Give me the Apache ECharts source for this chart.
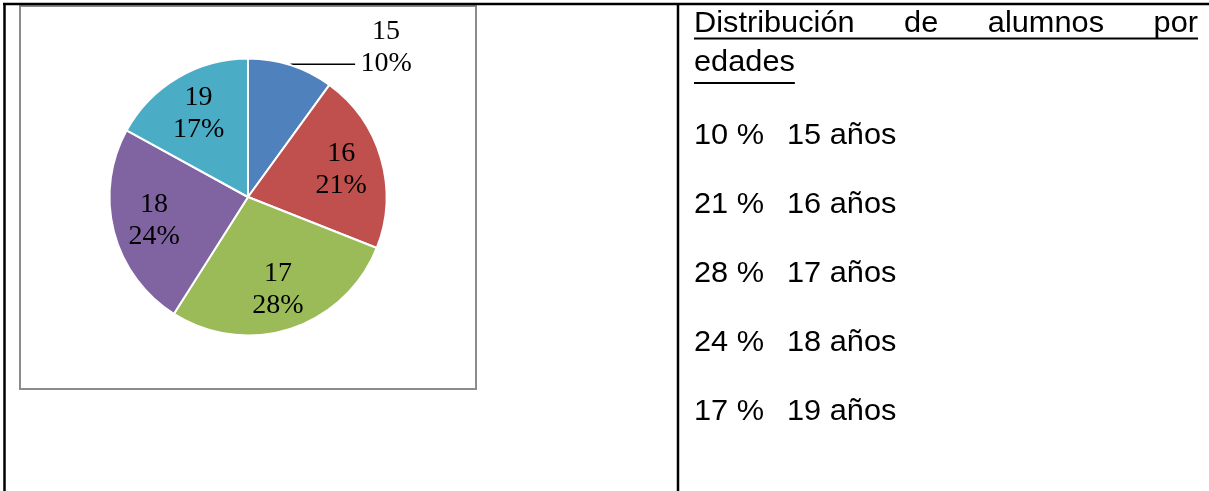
<!doctype html>
<html>

<head>
    <meta charset="utf-8">
    <title>Distribución de alumnos por edades</title>
    <script src="https://cdn.jsdelivr.net/npm/echarts@6.0.0/dist/echarts.min.js"></script>
    <style>
        body { margin: 0; background: #fff; }
    </style>
</head>

<body>
    <div id="container" style="width:1209px;height:491px;"></div>
    <script type="text/javascript">
        // datos del grafico
        var edades = ['15', '16', '17', '18', '19'];
        var porcentajes = [10, 21, 28, 24, 17];
        var colores = ['#4F81BD', '#C0504D', '#9BBB59', '#8064A2', '#4BACC6'];
        var titulo = ['Distribución', 'de', 'alumnos', 'por'];
        var subtitulo = 'edades';

        var fuenteTexto = '29px "Liberation Sans", Arial, sans-serif';
        var fuentePie = '"Liberation Serif", "Times New Roman", serif';

        var datos = [];
        for (var i = 0; i < edades.length; i++) {
            datos.push({ name: edades[i], value: porcentajes[i] });
        }

        // etiquetas: la primera va fuera con linea
        var etiquetas = datos.map(function (d, i) {
            if (i != 0) return { name: d.name, value: d.value };
            return {
                name: d.name,
                value: d.value,
                label: {
                    position: 'outside',
                    formatter: '{a|{b}}\n{a|{c}%}',
                    padding: [0, 0, 34, 0],
                    distanceToLabelLine: 6,
                    rich: {
                        a: { width: 50, align: 'center', color: '#000', fontFamily: fuentePie, fontSize: 28, lineHeight: 32 }
                    }
                },
                labelLine: {
                    show: true,
                    length: 1,
                    length2: 64,
                    lineStyle: { color: '#000', width: 1.5 }
                }
            };
        });

        // medir palabras para justificar el titulo
        var ctx = document.createElement('canvas').getContext('2d');
        ctx.font = fuenteTexto;
        var escalaX = 1.06;
        var izq = 694, der = 1198;
        var anchos = titulo.map(function (w) { return ctx.measureText(w).width * escalaX; });
        var total = anchos.reduce(function (a, b) { return a + b; }, 0);
        var hueco = (der - izq - total) / (titulo.length - 1);

        var graficos = [];
        // bordes de la tabla
        graficos.push({ type: 'line', silent: true, shape: { x1: 3, y1: 4, x2: 1209, y2: 4 }, style: { stroke: '#000', lineWidth: 2.5 } });
        graficos.push({ type: 'line', silent: true, shape: { x1: 4.5, y1: 3, x2: 4.5, y2: 491 }, style: { stroke: '#000', lineWidth: 2.5 } });
        graficos.push({ type: 'line', silent: true, shape: { x1: 678, y1: 3, x2: 678, y2: 491 }, style: { stroke: '#000', lineWidth: 2.5 } });
        // marco del grafico
        graficos.push({ type: 'rect', silent: true, z: -1, shape: { x: 20, y: 6, width: 456, height: 383 }, style: { fill: '#fff', stroke: '#8c8c8c', lineWidth: 2 } });

        var x = izq;
        for (var j = 0; j < titulo.length; j++) {
            graficos.push({
                type: 'text', silent: true, x: x, y: 24, scaleX: escalaX,
                style: { text: titulo[j], font: fuenteTexto, fill: '#000', verticalAlign: 'middle' }
            });
            x += anchos[j] + hueco;
        }
        graficos.push({ type: 'line', silent: true, shape: { x1: izq, y1: 38.5, x2: der, y2: 38.5 }, style: { stroke: '#000', lineWidth: 2 } });
        graficos.push({
            type: 'text', silent: true, x: izq, y: 63, scaleX: escalaX,
            style: { text: subtitulo, font: fuenteTexto, fill: '#000', verticalAlign: 'middle' }
        });
        var anchoSub = ctx.measureText(subtitulo).width * escalaX;
        graficos.push({ type: 'line', silent: true, shape: { x1: izq, y1: 83, x2: izq + anchoSub, y2: 83 }, style: { stroke: '#000', lineWidth: 2 } });

        // lista de porcentajes
        for (var k = 0; k < edades.length; k++) {
            var yy = 136 + k * 69;
            graficos.push({
                type: 'text', silent: true, x: izq, y: yy, scaleX: escalaX,
                style: { text: porcentajes[k] + ' %', font: fuenteTexto, fill: '#000', verticalAlign: 'middle' }
            });
            graficos.push({
                type: 'text', silent: true, x: 787, y: yy, scaleX: escalaX,
                style: { text: edades[k] + ' años', font: fuenteTexto, fill: '#000', verticalAlign: 'middle' }
            });
        }

        var option = {
            animation: false,
            color: colores,
            graphic: graficos,
            series: [
                {
                    name: 'edades',
                    type: 'pie',
                    center: [248, 197],
                    radius: [0, 138.5],
                    silent: true,
                    label: { show: false },
                    labelLine: { show: false },
                    itemStyle: { borderColor: '#fff', borderWidth: 2 },
                    data: datos
                },
                {
                    // capa transparente solo para colocar las etiquetas
                    name: 'etiquetas',
                    type: 'pie',
                    center: [248, 197],
                    radius: [49.5, 138.5],
                    silent: true,
                    avoidLabelOverlap: false,
                    itemStyle: { color: 'transparent', borderWidth: 0 },
                    label: {
                        show: true,
                        position: 'inside',
                        formatter: '{b}\n{c}%',
                        color: '#000',
                        fontFamily: fuentePie,
                        fontSize: 28,
                        lineHeight: 32
                    },
                    labelLine: { show: false },
                    data: etiquetas
                }
            ]
        };

        var myChart = echarts.init(document.getElementById('container'));
        myChart.setOption(option);
    </script>
</body>

</html>
